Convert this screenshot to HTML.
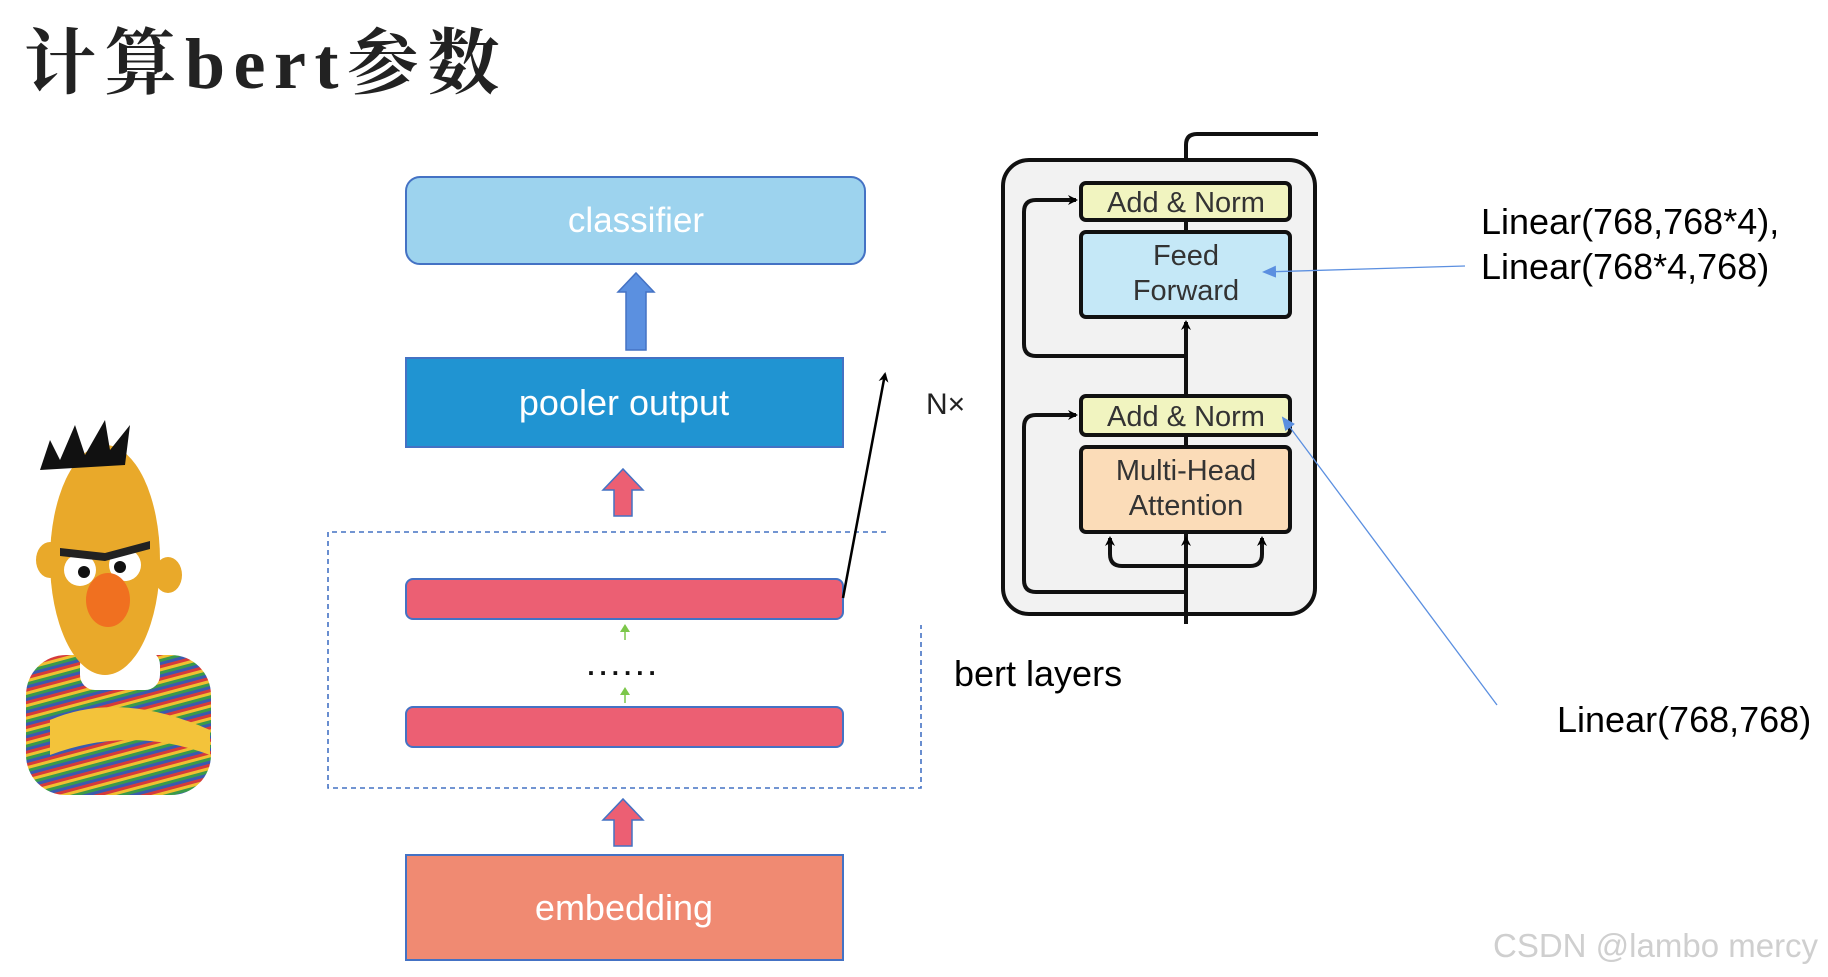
<!DOCTYPE html>
<html><head><meta charset="utf-8"><style>
html,body{margin:0;padding:0;background:#fff;}
svg{display:block}
</style></head><body>
<svg width="1828" height="977" viewBox="0 0 1828 977" xmlns="http://www.w3.org/2000/svg">
<defs>
<marker id="ah" markerWidth="10" markerHeight="10" refX="8" refY="5" orient="auto" markerUnits="userSpaceOnUse"><path d="M0,0 L10,5 L0,10 L3,5 z" fill="#000"/></marker>
<marker id="bh" markerWidth="14" markerHeight="12" refX="12" refY="6" orient="auto" markerUnits="userSpaceOnUse"><path d="M0,0 L14,6 L0,12 z" fill="#5b8fe0"/></marker>
<pattern id="stripes" width="12" height="12" patternUnits="userSpaceOnUse" patternTransform="rotate(-15)">
<rect width="12" height="3" y="0" fill="#d63a3a"/><rect width="12" height="3" y="3" fill="#f0c030"/><rect width="12" height="3" y="6" fill="#3a9a4a"/><rect width="12" height="3" y="9" fill="#3a5ab0"/>
</pattern>
</defs>
<text x="24" y="88" font-family="'Liberation Serif','Noto Serif CJK SC',serif" font-weight="bold" font-size="72" fill="#222" letter-spacing="8.5">计算bert参数</text>

<!-- Bert -->
<g>
<rect x="26" y="655" width="185" height="140" rx="40" fill="url(#stripes)"/>
<rect x="80" y="650" width="80" height="40" rx="15" fill="#fff"/>
<path d="M50,720 q70,-30 160,10 l0,25 q-80,-30 -160,0z" fill="#f3c33a"/>
<ellipse cx="105" cy="560" rx="55" ry="115" fill="#e9a92a"/>
<ellipse cx="50" cy="560" rx="14" ry="18" fill="#e9a92a"/>
<ellipse cx="168" cy="575" rx="14" ry="18" fill="#e9a92a"/>
<path d="M40,470 l10,-30 l10,20 l15,-35 l10,30 l20,-35 l5,30 l20,-25 l-5,40 z" fill="#111"/>
<circle cx="80" cy="570" r="16" fill="#fff"/><circle cx="125" cy="565" r="16" fill="#fff"/>
<circle cx="84" cy="572" r="6" fill="#111"/><circle cx="120" cy="567" r="6" fill="#111"/>
<path d="M60,548 l45,5 l45,-12 l0,8 l-45,12 l-45,-5z" fill="#222"/>
<ellipse cx="108" cy="600" rx="22" ry="27" fill="#f07020"/>
</g>

<!-- left diagram -->
<rect x="406" y="177" width="459" height="87" rx="14" fill="#9dd3ee" stroke="#4472c4" stroke-width="2"/>
<text x="636" y="232" text-anchor="middle" font-family="'Liberation Sans',sans-serif" font-size="35" fill="#fff">classifier</text>
<path d="M626,350 L626,292 L618,292 L636,273 L654,292 L646,292 L646,350 Z" fill="#5b90e0" stroke="#4472c4" stroke-width="1.5"/>
<rect x="406" y="358" width="437" height="89" fill="#2094d2" stroke="#4472c4" stroke-width="2"/>
<text x="624" y="415" text-anchor="middle" font-family="'Liberation Sans',sans-serif" font-size="36" fill="#fff">pooler output</text>
<path d="M614,516 L614,490 L603,490 L623,469 L643,490 L632,490 L632,516 Z" fill="#ec5f73" stroke="#4472c4" stroke-width="1.5"/>
<path d="M886,532 L328,532 L328,788 L921,788 L921,625" fill="none" stroke="#4472c4" stroke-width="1.6" stroke-dasharray="5,4"/>
<rect x="406" y="579" width="437" height="40" rx="7" fill="#ec5f73" stroke="#4472c4" stroke-width="2"/>
<line x1="625" y1="640" x2="625" y2="630" stroke="#7cc74a" stroke-width="1.5"/><path d="M620,632 L625,624 L630,632z" fill="#7cc74a"/>
<text x="624" y="675" text-anchor="middle" font-family="'Liberation Sans',sans-serif" font-size="26" font-weight="bold" fill="#111" letter-spacing="5">......</text>
<line x1="625" y1="703" x2="625" y2="693" stroke="#7cc74a" stroke-width="1.5"/><path d="M620,695 L625,687 L630,695z" fill="#7cc74a"/>
<rect x="406" y="707" width="437" height="40" rx="7" fill="#ec5f73" stroke="#4472c4" stroke-width="2"/>
<path d="M614,846 L614,820 L603,820 L623,799 L643,820 L632,820 L632,846 Z" fill="#ec5f73" stroke="#4472c4" stroke-width="1.5"/>
<rect x="406" y="855" width="437" height="105" fill="#f08a72" stroke="#4472c4" stroke-width="2"/>
<text x="624" y="920" text-anchor="middle" font-family="'Liberation Sans',sans-serif" font-size="36" fill="#fff">embedding</text>
<line x1="843" y1="598" x2="885" y2="374" stroke="#000" stroke-width="2.5" marker-end="url(#ah)"/>
<text x="926" y="414" font-family="'Liberation Sans',sans-serif" font-size="30" fill="#222">N×</text>
<text x="954" y="686" font-family="'Liberation Sans',sans-serif" font-size="36" fill="#000">bert layers</text>

<!-- transformer -->
<rect x="1003" y="160" width="312" height="454" rx="26" fill="#f2f2f2" stroke="#111" stroke-width="4"/>
<path d="M1186,160 L1186,145 Q1186,134 1197,134 L1318,134" fill="none" stroke="#111" stroke-width="4"/>
<line x1="1186" y1="624" x2="1186" y2="534" stroke="#111" stroke-width="4"/>
<line x1="1186" y1="447" x2="1186" y2="435" stroke="#111" stroke-width="4"/>
<line x1="1186" y1="396" x2="1186" y2="322" stroke="#111" stroke-width="4" marker-end="url(#ah)"/>
<line x1="1186" y1="232" x2="1186" y2="220" stroke="#111" stroke-width="4"/>
<path d="M1186,356 L1036,356 Q1024,356 1024,344 L1024,212 Q1024,200 1036,200 L1076,200" fill="none" stroke="#111" stroke-width="4" marker-end="url(#ah)"/>
<path d="M1186,592 L1036,592 Q1024,592 1024,580 L1024,427 Q1024,415 1036,415 L1076,415" fill="none" stroke="#111" stroke-width="4" marker-end="url(#ah)"/>
<path d="M1186,566 L1122,566 Q1110,566 1110,554 L1110,538" fill="none" stroke="#111" stroke-width="4" marker-end="url(#ah)"/>
<path d="M1186,566 L1250,566 Q1262,566 1262,554 L1262,538" fill="none" stroke="#111" stroke-width="4" marker-end="url(#ah)"/>
<line x1="1186" y1="566" x2="1186" y2="538" stroke="#111" stroke-width="4" marker-end="url(#ah)"/>
<rect x="1081" y="183" width="209" height="37" rx="5" fill="#f1f4c0" stroke="#111" stroke-width="4"/>
<text x="1186" y="212" text-anchor="middle" font-family="'Liberation Sans',sans-serif" font-size="29" fill="#333">Add &amp; Norm</text>
<rect x="1081" y="232" width="209" height="85" rx="5" fill="#c5e8f7" stroke="#111" stroke-width="4"/>
<text x="1186" y="265" text-anchor="middle" font-family="'Liberation Sans',sans-serif" font-size="29" fill="#333">Feed</text>
<text x="1186" y="300" text-anchor="middle" font-family="'Liberation Sans',sans-serif" font-size="29" fill="#333">Forward</text>
<rect x="1081" y="396" width="209" height="39" rx="5" fill="#f1f4c0" stroke="#111" stroke-width="4"/>
<text x="1186" y="426" text-anchor="middle" font-family="'Liberation Sans',sans-serif" font-size="29" fill="#333">Add &amp; Norm</text>
<rect x="1081" y="447" width="209" height="85" rx="5" fill="#fbdcb8" stroke="#111" stroke-width="4"/>
<text x="1186" y="480" text-anchor="middle" font-family="'Liberation Sans',sans-serif" font-size="29" fill="#333">Multi-Head</text>
<text x="1186" y="515" text-anchor="middle" font-family="'Liberation Sans',sans-serif" font-size="29" fill="#333">Attention</text>

<line x1="1465" y1="266" x2="1264" y2="272" stroke="#5b8fe0" stroke-width="1.3" marker-end="url(#bh)"/>
<line x1="1497" y1="705" x2="1283" y2="418" stroke="#5b8fe0" stroke-width="1.3" marker-end="url(#bh)"/>
<text x="1481" y="234" font-family="'Liberation Sans',sans-serif" font-size="36" fill="#000">Linear(768,768*4),</text>
<text x="1481" y="279" font-family="'Liberation Sans',sans-serif" font-size="36" fill="#000">Linear(768*4,768)</text>
<text x="1557" y="732" font-family="'Liberation Sans',sans-serif" font-size="36" fill="#000">Linear(768,768)</text>
<text x="1493" y="957" font-family="'Liberation Sans',sans-serif" font-size="33" fill="#cfcfcf">CSDN @lambo mercy</text>
</svg>
</body></html>
